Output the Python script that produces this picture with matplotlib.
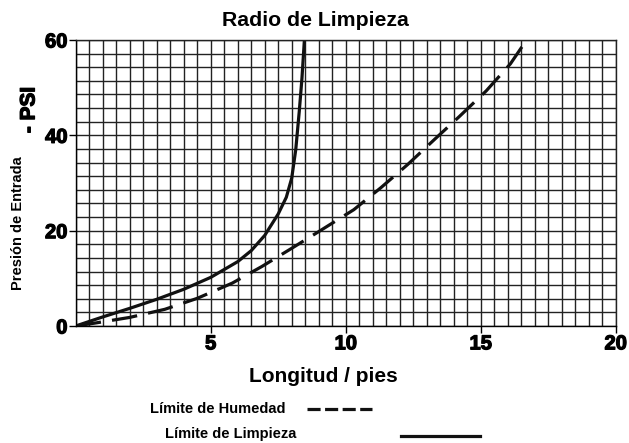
import numpy as np
from matplotlib import pyplot as plt
from matplotlib.lines import Line2D
import matplotlib.patheffects as pe

plt.rcParams['font.family'] = ['Liberation Sans', 'DejaVu Sans']

# Límite de Limpieza (solid curve)
limpieza_x = [0, 1, 2, 3, 4, 5, 6, 6.5, 7, 7.5, 7.8, 8.0, 8.15, 8.28, 8.38, 8.47]
limpieza_y = [0, 1.9, 3.7, 5.6, 7.7, 10.2, 13.5, 15.8, 19, 23.5, 27, 31, 37, 45, 52, 60]

# Límite de Humedad (dashed curve)
humedad_x = [0, 0.7, 2, 3.3, 4.5, 5.8, 6.9, 8, 9, 10.3, 11.3, 12.3, 13.3, 14.2, 15.2, 16.1, 16.7]
humedad_y = [0, 0.6, 1.8, 3.5, 5.8, 9.0, 12.5, 16.3, 19.8, 24.4, 29, 33.9, 39.2, 43.9, 49.3, 55, 60]

x_ticks = [5, 10, 15, 20]
y_ticks = [0, 20, 40, 60]

W, H = 629, 443
fig = plt.figure(figsize=(W / 100, H / 100), dpi=100)
ax = fig.add_axes([75.7 / W, 117 / H, 540 / W, 286 / H])

ax.set_xlim(0, 20)
ax.set_ylim(0, 60)

# square-ish grid cells
ax.set_xticks(np.arange(0, 20.01, 0.5), minor=True)
ax.set_yticks(np.linspace(0, 60, 22), minor=True)
ax.grid(which='both', color='#222222', linewidth=1.0)
ax.set_axisbelow(True)
ax.tick_params(which='minor', length=0)

ax.set_xticks(x_ticks)
ax.set_yticks(y_ticks)
ax.tick_params(which='major', length=5, width=1, direction='out', pad=1,
               labelsize=14.5, colors='black')
heavy = [pe.withStroke(linewidth=0.9, foreground='black')]
for lbl in ax.get_xticklabels() + ax.get_yticklabels():
    lbl.set_fontweight('bold')
    lbl.set_path_effects(heavy)

for s in ax.spines.values():
    s.set_color('#222222')
    s.set_linewidth(1.0)
ax.spines['left'].set_color('black')
ax.spines['bottom'].set_color('black')

ax.plot(limpieza_x, limpieza_y, color='#111111', lw=2.3, solid_capstyle='butt')
ax.plot(humedad_x, humedad_y, color='#111111', lw=2.3, dashes=(8.0, 3.5))


def fx(px):
    return px / W


def fy(py):
    return 1 - py / H


fig.text(fx(315), fy(20), 'Radio de Limpieza', ha='center', va='center',
         fontsize=15.3, fontweight='bold')
fig.text(fx(323), fy(377), 'Longitud / pies', ha='center', va='center',
         fontsize=15, fontweight='bold')
fig.text(fx(18), fy(223), 'Presión de Entrada', ha='center', va='center',
         rotation=90, fontsize=10.5, fontweight='bold')
fig.text(fx(29), fy(110), '- PSI', ha='center', va='center',
         rotation=90, fontsize=15, fontweight='bold', path_effects=heavy)

# legend
fig.text(fx(150), fy(409), 'Límite de Humedad', ha='left', va='center',
         fontsize=10.5, fontweight='bold')
fig.add_artist(Line2D([fx(307), fx(372)], [fy(409), fy(409)], color='#111111',
                      lw=2.3, dashes=(4.1, 1.4), transform=fig.transFigure))
fig.text(fx(165), fy(434), 'Límite de Limpieza', ha='left', va='center',
         fontsize=10.5, fontweight='bold')
fig.add_artist(Line2D([fx(401), fx(480)], [fy(436), fy(436)], color='#111111',
                      lw=2.3, transform=fig.transFigure))

fig.savefig('out.png', dpi=100)
